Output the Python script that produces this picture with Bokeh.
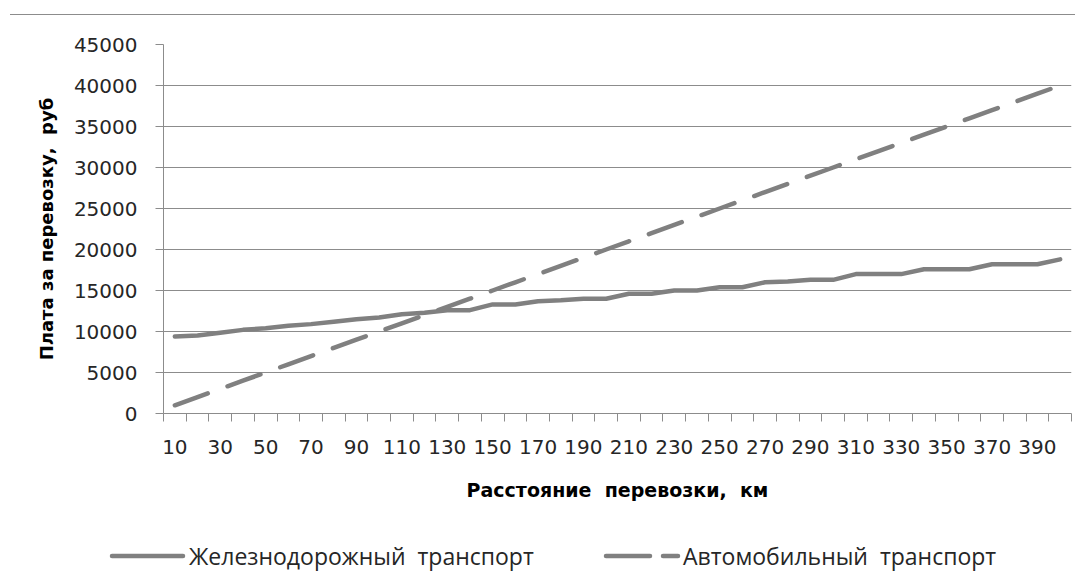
from bokeh.plotting import figure
from bokeh.models import ColumnDataSource, Range1d, FixedTicker, Div
from bokeh.layouts import column
from bokeh.embed import file_html
from bokeh.resources import INLINE

# Distance categories, km
distance_km = [10, 20, 30, 40, 50, 60, 70, 80, 90, 100,
               110, 120, 130, 140, 150, 160, 170, 180, 190, 200,
               210, 220, 230, 240, 250, 260, 270, 280, 290, 300,
               310, 320, 330, 340, 350, 360, 370, 380, 390, 400]

# Railway transport fee, rub
rail_fee = [9400, 9500, 9850, 10200, 10400, 10700, 10900, 11200, 11500, 11700,
            12100, 12300, 12600, 12600, 13300, 13300, 13700, 13800, 14000, 14000,
            14600, 14600, 15000, 15000, 15400, 15400, 16000, 16100, 16300, 16300,
            17000, 17000, 17000, 17600, 17600, 17600, 18200, 18200, 18200, 18800]

# Road transport fee, rub
auto_fee = [1000, 2000, 3000, 4000, 5000, 6000, 7000, 8000, 9000, 10000,
            11000, 12000, 13000, 14000, 15000, 16000, 17000, 18000, 19000, 20000,
            21000, 22000, 23000, 24000, 25000, 26000, 27000, 28000, 29000, 30000,
            31000, 32000, 33000, 34000, 35000, 36000, 37000, 38000, 39000, 40000]

y_ticks = [0, 5000, 10000, 15000, 20000, 25000, 30000, 35000, 40000, 45000]
x_labels = [10, 30, 50, 70, 90, 110, 130, 150, 170, 190,
            210, 230, 250, 270, 290, 310, 330, 350, 370, 390]

NB = "\u00a0"
rail_name = "Железнодорожный" + NB + " транспорт"
auto_name = "Автомобильный" + NB + " транспорт"
x_title = "Расстояние" + NB + " перевозки," + NB + " км"
y_title = "Плата за перевозку," + NB + " руб"

src = ColumnDataSource(dict(x=distance_km, rail=rail_fee, auto=auto_fee))

GRAY = "#808080"
GRID = "#8c8c8c"
TICK_FONT = "DejaVu Sans"
LINE_W = 4.5
DASH = "35 21"

step = distance_km[1] - distance_km[0]
x_lo = distance_km[0] - step / 2
x_hi = distance_km[-1] + step / 2

p = figure(width=1072, height=514, output_backend="svg", toolbar_location=None,
           x_range=Range1d(x_lo, x_hi), y_range=Range1d(y_ticks[0], y_ticks[-1]),
           min_border_left=163, min_border_right=1, min_border_top=29,
           min_border_bottom=116)
p.outline_line_color = None
p.background_fill_color = "white"
p.border_fill_color = "white"

# grid
p.xgrid.grid_line_color = None
p.ygrid.grid_line_color = GRID
p.ygrid.grid_line_width = 1

# y axis
p.yaxis.ticker = FixedTicker(ticks=y_ticks)
p.yaxis.axis_line_color = GRID
p.yaxis.major_tick_line_color = GRID
p.yaxis.major_tick_out = 8
p.yaxis.major_tick_in = 0
p.yaxis.minor_tick_line_color = None
p.yaxis.major_label_standoff = 18
p.yaxis.major_label_text_font = TICK_FONT
p.yaxis.major_label_text_font_size = "20px"
p.yaxis.major_label_text_color = "#262626"
p.yaxis.axis_label = y_title
p.yaxis.axis_label_text_font = "DejaVu Sans"
p.yaxis.axis_label_text_font_style = "bold"
p.yaxis.axis_label_text_font_size = "18px"
p.yaxis.axis_label_text_color = "#000000"
p.yaxis.axis_label_standoff = 14

# x axis: labels at every other category, ticks between categories
bounds = [x_lo + i * step for i in range(len(distance_km) + 1)]
p.xaxis.ticker = FixedTicker(ticks=x_labels, minor_ticks=bounds)
p.xaxis.major_label_overrides = {v: str(v) for v in x_labels}
p.xaxis.axis_line_color = GRID
p.xaxis.major_tick_line_color = None
p.xaxis.major_tick_out = 8
p.xaxis.major_tick_in = 0
p.xaxis.minor_tick_line_color = GRID
p.xaxis.minor_tick_out = 8
p.xaxis.minor_tick_in = 0
p.xaxis.major_label_standoff = 18
p.xaxis.major_label_text_font = TICK_FONT
p.xaxis.major_label_text_font_size = "20px"
p.xaxis.major_label_text_color = "#262626"
p.xaxis.axis_label = x_title
p.xaxis.axis_label_text_font = "DejaVu Sans"
p.xaxis.axis_label_text_font_style = "bold"
p.xaxis.axis_label_text_font_size = "19px"
p.xaxis.axis_label_text_color = "#000000"
p.xaxis.axis_label_standoff = 22

p.line("x", "rail", source=src, line_color=GRAY, line_width=LINE_W,
       line_join="round", line_cap="round")
p.line("x", "auto", source=src, line_color=GRAY, line_width=LINE_W,
       line_dash=DASH, line_cap="round")

# legend strip below the chart
legend_html = f"""
<div style="position:relative;width:1072px;height:49px;font-family:'Open Sans';
font-size:23px;color:#262626;">
<svg width="1072" height="49" style="position:absolute;left:0;top:0;">
<line x1="112" y1="27" x2="183" y2="27" stroke="{GRAY}" stroke-width="{LINE_W}"
 stroke-linecap="round"/>
<line x1="606" y1="27" x2="650" y2="27" stroke="{GRAY}" stroke-width="{LINE_W}"
 stroke-linecap="round"/>
<line x1="663" y1="27" x2="678" y2="27" stroke="{GRAY}" stroke-width="{LINE_W}"
 stroke-linecap="round"/>
</svg>
<span style="position:absolute;left:189px;top:11px;line-height:32px;white-space:pre;">{rail_name}</span>
<span style="position:absolute;left:683px;top:11px;line-height:32px;white-space:pre;">{auto_name}</span>
</div>
"""
legend_div = Div(text=legend_html, width=1072, height=49, margin=0)

top_line = Div(text="", width=1065, height=15, margin=(0, 0, 0, 10),
               styles={"border-bottom": "1px solid #8c8c8c"})

layout = column(top_line, p, legend_div, spacing=0)
open("out.html", "w").write(file_html(layout, INLINE))
